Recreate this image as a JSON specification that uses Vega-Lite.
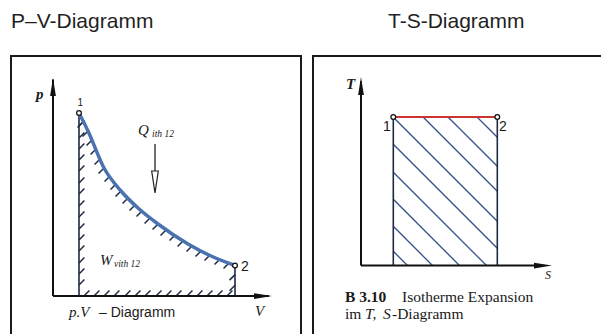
{
  "$schema": "https://vega.github.io/schema/vega-lite/v6.json",
  "background": "white",
  "padding": {"left": 10, "top": 10, "right": 0, "bottom": 0},
  "spacing": 10,
  "config": {
    "view": {"stroke": "#1a1a1a", "strokeWidth": 2},
    "title": {"font": "Liberation Sans", "fontSize": 21, "fontWeight": "normal", "color": "#1f1f1f", "offset": 24}
  },
  "datasets": {
    "pv_axes": [{"V": 0, "p": 0, "V2": 0, "p2": 7.1}, {"V": 0, "p": 0, "V2": 8.3, "p2": 0}],
    "pv_edges": [{"V": 1, "p": 0, "V2": 1, "p2": 6.0}, {"V": 7, "p": 0, "V2": 7, "p2": 1.0}],
    "pv_curve": [
      {"V": 1.0, "p": 6.0}, {"V": 1.346, "p": 5.41}, {"V": 1.962, "p": 4.197}, {"V": 2.615, "p": 3.443},
      {"V": 3.269, "p": 2.885}, {"V": 4.038, "p": 2.361}, {"V": 5.192, "p": 1.705}, {"V": 6.077, "p": 1.311},
      {"V": 7.0, "p": 1.0}
    ],
    "pv_states": [{"V": 1, "p": 6.0}, {"V": 7, "p": 1.0}],
    "pv_arrow_up": [{"V": 0, "p": 6.85}],
    "pv_arrow_right": [{"V": 8.077, "p": 0}],
    "pv_ticks_below": [
      {"V": 1.154, "p": 5.705}, {"V": 1.346, "p": 5.41}, {"V": 1.5, "p": 5.115}, {"V": 1.654, "p": 4.82},
      {"V": 1.808, "p": 4.492}, {"V": 1.962, "p": 4.197}, {"V": 2.192, "p": 3.934}, {"V": 2.423, "p": 3.672},
      {"V": 2.615, "p": 3.443}, {"V": 2.885, "p": 3.213}, {"V": 3.154, "p": 2.984}, {"V": 3.423, "p": 2.787},
      {"V": 3.731, "p": 2.557}, {"V": 4.038, "p": 2.361}, {"V": 4.346, "p": 2.164}, {"V": 4.692, "p": 2.0},
      {"V": 5.0, "p": 1.803}, {"V": 5.346, "p": 1.639}, {"V": 5.692, "p": 1.475}, {"V": 6.038, "p": 1.344},
      {"V": 6.423, "p": 1.213}, {"V": 6.769, "p": 1.082}, {"V": 7.0, "p": 0.7}, {"V": 7.0, "p": 0.35}
    ],
    "pv_ticks_inside": [
      {"V": 1, "p": 5.574}, {"V": 1, "p": 5.18}, {"V": 1, "p": 4.82}, {"V": 1, "p": 4.459}, {"V": 1, "p": 4.098},
      {"V": 1, "p": 3.705}, {"V": 1, "p": 3.344}, {"V": 1, "p": 2.951}, {"V": 1, "p": 2.59}, {"V": 1, "p": 2.197},
      {"V": 1, "p": 1.836}, {"V": 1, "p": 1.475}, {"V": 1, "p": 1.082}, {"V": 1, "p": 0.721}, {"V": 1, "p": 0.361},
      {"V": 1.192, "p": 0}, {"V": 1.577, "p": 0}, {"V": 1.962, "p": 0}, {"V": 2.346, "p": 0}, {"V": 2.769, "p": 0},
      {"V": 3.154, "p": 0}, {"V": 3.538, "p": 0}, {"V": 3.962, "p": 0}, {"V": 4.346, "p": 0}, {"V": 4.731, "p": 0},
      {"V": 5.154, "p": 0}, {"V": 5.538, "p": 0}, {"V": 5.923, "p": 0}, {"V": 6.308, "p": 0}, {"V": 6.692, "p": 0}
    ],
    "pv_heat": [{"V": 3.923, "p": 4.984, "V2": 3.923, "p2": 4.033}],
    "pv_heat_head": [{"V": 3.923, "p": 3.738}],
    "pv_text_bi": [{"V": -0.654, "p": 6.459, "label": "p"}],
    "pv_text_one": [{"V": 0.942, "p": 6.23, "label": "1"}],
    "pv_text_two": [{"V": 7.23, "p": 0.82, "label": "2"}],
    "pv_text_it": [
      {"V": 3.269, "p": 5.295, "label": "Q"}, {"V": 1.808, "p": 1.033, "label": "W"},
      {"V": 0.615, "p": -0.689, "label": "p.V"}, {"V": 7.769, "p": -0.656, "label": "V"}
    ],
    "pv_text_sub": [{"V": 3.808, "p": 5.213, "label": "ith 12"}, {"V": 2.346, "p": 0.951, "label": "vith 12"}],
    "pv_text_sans": [{"V": 1.769, "p": -0.689, "label": "– Diagramm"}],
    "ts_axes": [{"S": 0, "T": 0, "S2": 0, "T2": 6.2}, {"S": 0, "T": 0, "S2": 5.5, "T2": 0}],
    "ts_edges": [{"S": 1, "T": 0, "S2": 1, "T2": 5}, {"S": 4.22, "T": 0, "S2": 4.22, "T2": 5}],
    "ts_isotherm": [{"S": 1, "T": 5, "S2": 4.22, "T2": 5}],
    "ts_hatch": [
      {"S": 1.0, "T": 0.478, "S2": 1.44, "T2": 0},
      {"S": 1.0, "T": 1.32, "S2": 2.214, "T2": 0},
      {"S": 1.0, "T": 2.229, "S2": 3.05, "T2": 0},
      {"S": 1.0, "T": 3.138, "S2": 3.885, "T2": 0},
      {"S": 1.0, "T": 4.081, "S2": 4.22, "T2": 0.579},
      {"S": 1.0, "T": 4.99, "S2": 4.22, "T2": 1.488},
      {"S": 1.92, "T": 5.0, "S2": 4.22, "T2": 2.498},
      {"S": 2.693, "T": 5.0, "S2": 4.22, "T2": 3.34},
      {"S": 3.591, "T": 5.0, "S2": 4.22, "T2": 4.316}
    ],
    "ts_states": [{"S": 1, "T": 5}, {"S": 4.22, "T": 5}],
    "ts_arrow_up": [{"S": 0, "T": 6.044}],
    "ts_arrow_right": [{"S": 5.635, "T": 0}],
    "ts_text_bi": [{"S": -0.464, "T": 5.943, "label": "T"}],
    "ts_text_num": [{"S": 0.681, "T": 4.529, "label": "1"}, {"S": 4.272, "T": 4.529, "label": "2"}],
    "ts_text_axis": [{"S": 5.697, "T": -0.438, "label": "S"}],
    "ts_caption_bold": [{"S": -0.495, "T": -1.219, "label": "B 3.10"}],
    "ts_caption": [{"S": 1.269, "T": -1.219, "label": "Isotherme Expansion"}, {"S": -0.495, "T": -1.811, "label": "im"}, {"S": 0.96, "T": -1.811, "label": "-Diagramm"}],
    "ts_caption_it": [{"S": 0.124, "T": -1.811, "label": "T,"}, {"S": 0.681, "T": -1.811, "label": "S"}]
  },
  "hconcat": [
    {
      "title": {"text": "P–V-Diagramm", "anchor": "start"},
      "width": 290,
      "height": 290,
      "encoding": {
        "x": {"field": "V", "type": "quantitative", "scale": {"domain": [-1.615, 9.538], "nice": false, "zero": false}, "axis": null},
        "y": {"field": "p", "type": "quantitative", "scale": {"domain": [-1.639, 7.869], "nice": false, "zero": false}, "axis": null}
      },
      "layer": [
        {"data": {"name": "pv_ticks_below"}, "mark": {"type": "point", "shape": "M-1,1L1,-1", "size": 30, "filled": false, "stroke": "#1e2a44", "strokeWidth": 1.5, "opacity": 1, "xOffset": -2.7, "yOffset": 2.7}},
        {"data": {"name": "pv_ticks_inside"}, "mark": {"type": "point", "shape": "M-1,1L1,-1", "size": 30, "filled": false, "stroke": "#1e2a44", "strokeWidth": 1.5, "opacity": 1, "xOffset": 2.7, "yOffset": -2.7}},
        {"data": {"name": "pv_edges"}, "mark": {"type": "rule", "color": "#1e2a44", "strokeWidth": 1.6}, "encoding": {"x2": {"field": "V2"}, "y2": {"field": "p2"}}},
        {"data": {"name": "pv_axes"}, "mark": {"type": "rule", "color": "#111111", "strokeWidth": 2}, "encoding": {"x2": {"field": "V2"}, "y2": {"field": "p2"}}},
        {"data": {"name": "pv_arrow_up"}, "mark": {"type": "point", "shape": "M0,-1L0.32,1L-0.32,1Z", "size": 324, "filled": true, "color": "#111111", "opacity": 1}},
        {"data": {"name": "pv_arrow_right"}, "mark": {"type": "point", "shape": "M1,0L-1,0.32L-1,-0.32Z", "size": 324, "filled": true, "color": "#111111", "opacity": 1}},
        {"data": {"name": "pv_curve"}, "mark": {"type": "line", "color": "#4a72b0", "strokeWidth": 3.5, "interpolate": "monotone"}},
        {"data": {"name": "pv_heat"}, "mark": {"type": "rule", "color": "#222222", "strokeWidth": 1.3}, "encoding": {"x2": {"field": "V2"}, "y2": {"field": "p2"}}},
        {"data": {"name": "pv_heat_head"}, "mark": {"type": "point", "shape": "M-0.3,-1L0.3,-1L0,1Z", "size": 484, "filled": true, "fill": "white", "stroke": "#222222", "strokeWidth": 1.2, "opacity": 1}},
        {"data": {"name": "pv_states"}, "mark": {"type": "point", "shape": "circle", "size": 22, "filled": true, "fill": "white", "stroke": "#111111", "strokeWidth": 1.3, "opacity": 1}},
        {"data": {"name": "pv_text_bi"}, "mark": {"type": "text", "align": "left", "baseline": "alphabetic", "font": "Liberation Serif", "fontStyle": "italic", "fontWeight": "bold", "fontSize": 15, "color": "#1a1a1a"}, "encoding": {"text": {"field": "label"}}},
        {"data": {"name": "pv_text_one"}, "mark": {"type": "text", "align": "left", "baseline": "alphabetic", "font": "Liberation Sans", "fontSize": 10, "color": "#1a1a1a"}, "encoding": {"text": {"field": "label"}}},
        {"data": {"name": "pv_text_two"}, "mark": {"type": "text", "align": "left", "baseline": "alphabetic", "font": "Liberation Sans", "fontSize": 14, "color": "#1a1a1a"}, "encoding": {"text": {"field": "label"}}},
        {"data": {"name": "pv_text_it"}, "mark": {"type": "text", "align": "left", "baseline": "alphabetic", "font": "Liberation Serif", "fontStyle": "italic", "fontSize": 15, "color": "#1a1a1a"}, "encoding": {"text": {"field": "label"}}},
        {"data": {"name": "pv_text_sub"}, "mark": {"type": "text", "align": "left", "baseline": "alphabetic", "font": "Liberation Serif", "fontStyle": "italic", "fontSize": 9.5, "color": "#1a1a1a"}, "encoding": {"text": {"field": "label"}}},
        {"data": {"name": "pv_text_sans"}, "mark": {"type": "text", "align": "left", "baseline": "alphabetic", "font": "Liberation Sans", "fontSize": 14, "color": "#1a1a1a"}, "encoding": {"text": {"field": "label"}}}
      ]
    },
    {
      "title": {"text": "T-S-Diagramm", "anchor": "start", "dx": 75},
      "width": 292,
      "height": 290,
      "encoding": {
        "x": {"field": "S", "type": "quantitative", "scale": {"domain": [-1.486, 7.554], "nice": false, "zero": false}, "axis": null},
        "y": {"field": "T", "type": "quantitative", "scale": {"domain": [-2.71, 7.054], "nice": false, "zero": false}, "axis": null}
      },
      "layer": [
        {"data": {"name": "ts_hatch"}, "mark": {"type": "rule", "color": "#34518a", "strokeWidth": 1.3}, "encoding": {"x2": {"field": "S2"}, "y2": {"field": "T2"}}},
        {"data": {"name": "ts_edges"}, "mark": {"type": "rule", "color": "#1e2a44", "strokeWidth": 1.6}, "encoding": {"x2": {"field": "S2"}, "y2": {"field": "T2"}}},
        {"data": {"name": "ts_axes"}, "mark": {"type": "rule", "color": "#111111", "strokeWidth": 2}, "encoding": {"x2": {"field": "S2"}, "y2": {"field": "T2"}}},
        {"data": {"name": "ts_isotherm"}, "mark": {"type": "rule", "color": "#cc3333", "strokeWidth": 1.8}, "encoding": {"x2": {"field": "S2"}, "y2": {"field": "T2"}}},
        {"data": {"name": "ts_arrow_up"}, "mark": {"type": "point", "shape": "M0,-1L0.32,1L-0.32,1Z", "size": 324, "filled": true, "color": "#111111", "opacity": 1}},
        {"data": {"name": "ts_arrow_right"}, "mark": {"type": "point", "shape": "M1,0L-1,0.32L-1,-0.32Z", "size": 324, "filled": true, "color": "#111111", "opacity": 1}},
        {"data": {"name": "ts_states"}, "mark": {"type": "point", "shape": "circle", "size": 22, "filled": true, "fill": "white", "stroke": "#111111", "strokeWidth": 1.3, "opacity": 1}},
        {"data": {"name": "ts_text_bi"}, "mark": {"type": "text", "align": "left", "baseline": "alphabetic", "font": "Liberation Serif", "fontStyle": "italic", "fontWeight": "bold", "fontSize": 15, "color": "#1a1a1a"}, "encoding": {"text": {"field": "label"}}},
        {"data": {"name": "ts_text_num"}, "mark": {"type": "text", "align": "left", "baseline": "alphabetic", "font": "Liberation Sans", "fontSize": 14, "color": "#1a1a1a"}, "encoding": {"text": {"field": "label"}}},
        {"data": {"name": "ts_text_axis"}, "mark": {"type": "text", "align": "left", "baseline": "alphabetic", "font": "Liberation Serif", "fontStyle": "italic", "fontSize": 12, "color": "#1a1a1a"}, "encoding": {"text": {"field": "label"}}},
        {"data": {"name": "ts_caption_bold"}, "mark": {"type": "text", "align": "left", "baseline": "alphabetic", "font": "Liberation Serif", "fontWeight": "bold", "fontSize": 15.5, "color": "#1a1a1a"}, "encoding": {"text": {"field": "label"}}},
        {"data": {"name": "ts_caption"}, "mark": {"type": "text", "align": "left", "baseline": "alphabetic", "font": "Liberation Serif", "fontSize": 15.5, "color": "#1a1a1a"}, "encoding": {"text": {"field": "label"}}},
        {"data": {"name": "ts_caption_it"}, "mark": {"type": "text", "align": "left", "baseline": "alphabetic", "font": "Liberation Serif", "fontStyle": "italic", "fontSize": 15.5, "color": "#1a1a1a"}, "encoding": {"text": {"field": "label"}}}
      ]
    }
  ]
}
